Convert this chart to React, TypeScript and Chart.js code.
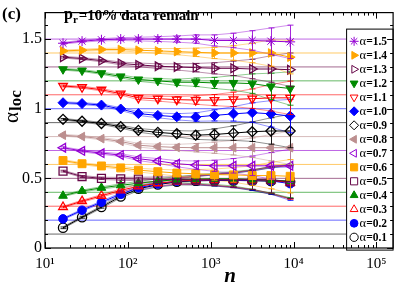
import React, { useEffect, useRef } from 'react';
import { Chart, registerables } from 'chart.js';
import { drawPoint } from 'chart.js/helpers';

Chart.register(...registerables);

// ---- data ----
const nValues = [16.5, 28, 48, 82, 134, 230, 390, 660, 1110, 1880, 3170, 5330, 9100];
const alphas = [1.5, 1.4, 1.3, 1.2, 1.1, 1.0, 0.9, 0.8, 0.7, 0.6, 0.5, 0.4, 0.3, 0.2, 0.1];
const alphaValueLabels = ['=1.5', '=1.4', '=1.3', '=1.2', '=1.1', '=1.0', '=0.9', '=0.8', '=0.7', '=0.6', '=0.5', '=0.4', '=0.3', '=0.2', '=0.1'];

const s15 = [1.47, 1.485, 1.495, 1.5, 1.5, 1.5, 1.5, 1.5, 1.49, 1.49, 1.49, 1.485, 1.48];
const s14 = [1.415, 1.42, 1.425, 1.425, 1.42, 1.415, 1.41, 1.405, 1.4, 1.4, 1.4, 1.4, 1.37];
const s13 = [1.37, 1.36, 1.345, 1.325, 1.315, 1.305, 1.3, 1.295, 1.29, 1.29, 1.285, 1.285, 1.28];
const s12 = [1.283, 1.274, 1.255, 1.232, 1.21, 1.2, 1.19, 1.19, 1.185, 1.185, 1.18, 1.16, 1.145];
const s11 = [1.163, 1.154, 1.136, 1.108, 1.078, 1.072, 1.065, 1.062, 1.062, 1.067, 1.072, 1.078, 1.078];
const s10 = [1.043, 1.037, 1.026, 0.998, 0.965, 0.952, 0.942, 0.94, 0.952, 0.963, 0.972, 0.963, 0.947];
const s09 = [0.924, 0.91, 0.894, 0.871, 0.845, 0.83, 0.82, 0.81, 0.815, 0.825, 0.835, 0.84, 0.84];
const s08 = [0.81, 0.8, 0.785, 0.765, 0.738, 0.728, 0.722, 0.72, 0.72, 0.72, 0.72, 0.72, 0.72];
const s07 = [0.72, 0.697, 0.681, 0.667, 0.641, 0.625, 0.605, 0.595, 0.59, 0.59, 0.59, 0.59, 0.59];
const s06 = [0.628, 0.605, 0.589, 0.575, 0.559, 0.548, 0.538, 0.533, 0.527, 0.525, 0.52, 0.52, 0.515];
const s05 = [0.552, 0.513, 0.5, 0.497, 0.495, 0.493, 0.49, 0.49, 0.49, 0.49, 0.49, 0.49, 0.475];
const s04 = [0.375, 0.409, 0.432, 0.45, 0.465, 0.48, 0.49, 0.495, 0.497, 0.497, 0.492, 0.488, 0.481];
const s03 = [0.294, 0.336, 0.375, 0.414, 0.443, 0.465, 0.48, 0.487, 0.49, 0.49, 0.49, 0.487, 0.47];
const s02 = [0.209, 0.271, 0.329, 0.386, 0.432, 0.46, 0.48, 0.485, 0.487, 0.487, 0.485, 0.482, 0.462];
const s01 = [0.145, 0.221, 0.294, 0.37, 0.425, 0.455, 0.475, 0.482, 0.485, 0.485, 0.483, 0.48, 0.475];

const errs = [0.006, 0.007, 0.008, 0.01, 0.013, 0.017, 0.022, 0.03, 0.04, 0.052, 0.07, 0.095, 0.12];

const xTicks = [10, 100, 1000, 10000, 100000];
const xTickLabels = ['10¹', '10²', '10³', '10⁴', '10⁵'];
const yTicks = [0, 0.5, 1, 1.5];
const yTickLabels = ['0', '0.5', '1', '1.5'];
const xMin = 10;
const xMax = 159000;
const yMin = 0;
const yMax = 1.69;

// ---- styles ----
const seriesValues = [s15, s14, s13, s12, s11, s10, s09, s08, s07, s06, s05, s04, s03, s02, s01];
const colors = ['#9400d3', '#ffa500', '#670748', '#008a00', '#ff0000', '#0000ff', '#000000', '#bc8f8f', '#9400d3', '#ffa500', '#670748', '#008a00', '#ff0000', '#0000ff', '#000000'];
const styles = ['star', 'triangle', 'triangle', 'triangle', 'triangle', 'rectRot', 'rectRot', 'triangle', 'triangle', 'rect', 'rect', 'triangle', 'triangle', 'circle', 'circle'];
const rots = [0, 90, 90, 180, 180, 0, 0, 270, 270, 0, 0, 0, 0, 0, 0];
const filled = [true, true, false, true, false, true, false, true, false, true, false, true, false, true, false];
const radii = [5, 5, 5, 5, 5, 5, 5, 5, 5, 5.6, 5.6, 5, 5, 4.3, 4.6];

const SERIF = "'Liberation Serif', 'DejaVu Serif', serif";

function rgba(hex: string, a: number) {
  const r = parseInt(hex.slice(1, 3), 16);
  const g = parseInt(hex.slice(3, 5), 16);
  const b = parseInt(hex.slice(5, 7), 16);
  return `rgba(${r},${g},${b},${a})`;
}

const errorBarPlugin = {
  id: 'errorBars',
  beforeDatasetDraw(chart: any, args: any) {
    const ds = chart.data.datasets[args.index];
    if (!ds.isMain) return;
    const i = ds.seriesIndex;
    const xs = chart.scales.x;
    const ys = chart.scales.y;
    const ctx = chart.ctx;
    ctx.save();
    ctx.strokeStyle = rgba(colors[i], 0.85);
    ctx.lineWidth = 1;
    seriesValues[i].forEach((v: number, j: number) => {
      const px = Math.round(xs.getPixelForValue(nValues[j])) + 0.5;
      const top = ys.getPixelForValue(v + errs[j]);
      const bot = ys.getPixelForValue(v - errs[j]);
      ctx.beginPath();
      ctx.moveTo(px, top);
      ctx.lineTo(px, bot);
      ctx.moveTo(px - 3, top);
      ctx.lineTo(px + 3, top);
      ctx.moveTo(px - 3, bot);
      ctx.lineTo(px + 3, bot);
      ctx.stroke();
    });
    ctx.restore();
  },
};

const decorPlugin = {
  id: 'decor',
  afterDraw(chart: any) {
    const ctx = chart.ctx;
    const { left, right, top, bottom } = chart.chartArea;
    const xs = chart.scales.x;
    const ys = chart.scales.y;
    ctx.save();

    // legend
    const lx = right - 47;
    const ly = top + 16;
    const lh = 221;
    ctx.fillStyle = '#ffffff';
    ctx.fillRect(lx, ly, right - lx, lh);
    ctx.strokeStyle = '#000';
    ctx.lineWidth = 1;
    ctx.strokeRect(lx + 0.5, ly + 0.5, right - lx - 0.5, lh);
    alphaValueLabels.forEach((lab, i) => {
      const y = ly + 12.7 + i * 14;
      const x = lx + 8;
      ctx.save();
      ctx.strokeStyle = colors[i];
      ctx.fillStyle = filled[i] ? colors[i] : '#ffffff';
      drawPoint(ctx, { pointStyle: styles[i], rotation: rots[i], radius: radii[i] * 0.9, borderWidth: filled[i] ? 1 : 1.3 }, x, y);
      ctx.restore();
      ctx.fillStyle = '#000';
      ctx.textAlign = 'left';
      ctx.textBaseline = 'middle';
      ctx.font = `12.5px ${SERIF}`;
      ctx.fillText('α', lx + 13.5, y + 0.5);
      const aw = ctx.measureText('α').width;
      ctx.font = `bold 11.5px ${SERIF}`;
      ctx.fillText(lab, lx + 13.5 + aw, y + 0.5);
    });

    // frame + inward ticks
    ctx.strokeStyle = '#000';
    ctx.lineWidth = 1.2;
    ctx.strokeRect(left, top, right - left, bottom - top);
    ctx.lineWidth = 1;
    ctx.beginPath();
    for (let k = 1; k <= 5; k++) {
      for (let m = 1; m <= 9; m++) {
        const v = m * Math.pow(10, k);
        if (v > xMax) continue;
        const px = Math.round(xs.getPixelForValue(v)) + 0.5;
        const len = m === 1 ? 6 : 3;
        ctx.moveTo(px, bottom);
        ctx.lineTo(px, bottom - len);
        ctx.moveTo(px, top);
        ctx.lineTo(px, top + len);
      }
    }
    for (let t = 0; t <= 16; t++) {
      const v = t / 10;
      const py = Math.round(ys.getPixelForValue(v)) + 0.5;
      const len = t % 5 === 0 ? 6 : 3;
      ctx.moveTo(left, py);
      ctx.lineTo(left + len, py);
      ctx.moveTo(right, py);
      ctx.lineTo(right - len, py);
    }
    ctx.stroke();

    // texts
    ctx.fillStyle = '#000';
    ctx.textAlign = 'left';
    ctx.textBaseline = 'alphabetic';
    ctx.font = `bold 17px ${SERIF}`;
    ctx.fillText('(c)', 2, 19);

    ctx.font = `bold 16px ${SERIF}`;
    ctx.fillText('p', 64, 19);
    const pw = ctx.measureText('p').width;
    ctx.font = `bold 11px ${SERIF}`;
    ctx.fillText('r', 64 + pw, 23);
    const rw = ctx.measureText('r').width;
    ctx.font = `bold 15px ${SERIF}`;
    ctx.fillText('=10% data remain', 64 + pw + rw + 1, 20);

    // x title
    ctx.font = `italic bold 21px ${SERIF}`;
    ctx.textAlign = 'center';
    ctx.fillText('n', 230, 282);

    // y title
    ctx.save();
    ctx.translate(18, 123);
    ctx.rotate(-Math.PI / 2);
    ctx.textAlign = 'left';
    ctx.font = `21px ${SERIF}`;
    ctx.fillText('α', 0, 0);
    const aw = ctx.measureText('α').width;
    ctx.font = `bold 17px ${SERIF}`;
    ctx.fillText('loc', aw + 1, 3);
    ctx.restore();

    ctx.restore();
  },
};

export default function App() {
  const ref = useRef<HTMLCanvasElement | null>(null);
  useEffect(() => {
    document.body.style.margin = '0';
    const canvas = ref.current;
    if (!canvas) return;
    const datasets: any[] = [];
    alphas.forEach((a, i) => {
      datasets.push({
        data: [{ x: xMin, y: a }, { x: xMax, y: a }],
        borderColor: rgba(colors[i], 0.6),
        borderWidth: 1,
        pointRadius: 0,
        order: 3,
      });
    });
    seriesValues.forEach((vals, i) => {
      datasets.push({
        data: vals.map((v, j) => ({ x: nValues[j], y: v + errs[j] })),
        borderColor: rgba(colors[i], 0.55),
        borderWidth: 0.8,
        pointRadius: 0,
        order: 2,
      });
      datasets.push({
        data: vals.map((v, j) => ({ x: nValues[j], y: v - errs[j] })),
        borderColor: rgba(colors[i], 0.55),
        borderWidth: 0.8,
        pointRadius: 0,
        order: 2,
      });
    });
    seriesValues.forEach((vals, i) => {
      datasets.push({
        isMain: true,
        seriesIndex: i,
        label: 'α' + alphaValueLabels[i],
        data: vals.map((v, j) => ({ x: nValues[j], y: v })),
        borderColor: colors[i],
        borderWidth: 1,
        pointStyle: styles[i],
        rotation: rots[i],
        pointRadius: radii[i],
        pointBackgroundColor: filled[i] ? colors[i] : 'rgba(0,0,0,0)',
        pointBorderColor: colors[i],
        pointBorderWidth: filled[i] ? 1 : 1.3,
        order: 1,
      });
    });

    const chart = new Chart(canvas, {
      type: 'line',
      data: { datasets },
      options: {
        responsive: false,
        animation: false,
        devicePixelRatio: 1,
        layout: { padding: { top: 3, right: 2, left: 0, bottom: 0 } },
        plugins: { legend: { display: false }, tooltip: { enabled: false }, title: { display: false } },
        scales: {
          x: {
            type: 'logarithmic',
            min: xMin,
            max: xMax,
            grid: { display: false, drawTicks: false },
            border: { display: false },
            afterBuildTicks: (s: any) => {
              s.ticks = xTicks.map((v) => ({ value: v }));
            },
            afterFit: (s: any) => {
              s.height = 36;
            },
            ticks: {
              autoSkip: false,
              maxRotation: 0,
              padding: 7,
              color: '#000',
              font: { family: SERIF, size: 15 },
              callback: (_v: any, i: number) => xTickLabels[i],
            },
          },
          y: {
            type: 'linear',
            min: yMin,
            max: yMax,
            grid: { display: false, drawTicks: false },
            border: { display: false },
            afterBuildTicks: (s: any) => {
              s.ticks = yTicks.map((v) => ({ value: v }));
            },
            afterFit: (s: any) => {
              s.width = 45;
            },
            ticks: {
              autoSkip: false,
              padding: 3,
              color: '#000',
              font: { family: SERIF, size: 16 },
              callback: (_v: any, i: number) => yTickLabels[i],
            },
          },
        },
      } as any,
      plugins: [errorBarPlugin, decorPlugin],
    });
    return () => chart.destroy();
  }, []);

  return (
    <div style={{ width: 400, height: 284 }}>
      <canvas ref={ref} width={400} height={284} style={{ display: 'block' }} />
    </div>
  );
}
